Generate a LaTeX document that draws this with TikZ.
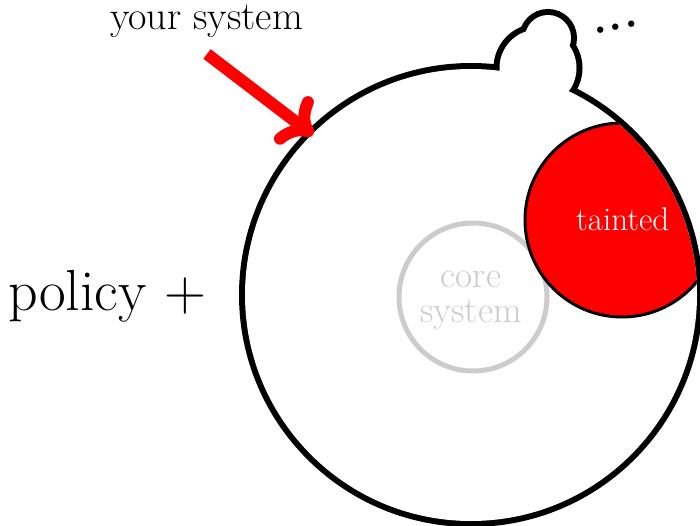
\documentclass[tikz,border=0pt]{standalone}
\usetikzlibrary{arrows.meta}
\definecolor{coregray}{gray}{0.8}
\begin{document}
\begin{tikzpicture}[x=1pt,y=-1pt,
  outline/.style={draw=black,line width=12pt},
  hole/.style={fill=white},
  coreline/.style={draw=coregray,line width=5pt},
  coretext/.style={text=coregray,inner sep=0pt,anchor=base,font=\fontsize{37}{37}\selectfont},
  label/.style={inner sep=0pt,anchor=base west},
  taint/.style={fill=red,draw=black,line width=3pt},
  pointer/.style={draw=red,line width=12pt,-{Computer Modern Rightarrow[length=30pt,width=58pt,round]}}]
\useasboundingbox (0,0) rectangle (700,526);
% centres
\coordinate (big) at (471,295);
\coordinate (mid) at (538,68);
\coordinate (small) at (548,38);
\coordinate (corec) at (473,297);
\coordinate (taintc) at (622,220);
% outline of "your system" (union of three circles)
\draw[outline] (big) circle[radius=226pt] (mid) circle[radius=38.5pt] (small) circle[radius=23pt];
\fill[hole] (big) circle[radius=226pt] (mid) circle[radius=38.5pt] (small) circle[radius=23pt];
% core system
\draw[coreline] (corec) circle[radius=74pt];
\node[coretext] (core1) at (471,287) {core};
\node[coretext] (core2) at (471,322) {system};
% tainted region
\begin{scope}
  \clip (big) circle[radius=226pt];
  \filldraw[taint] (taintc) circle[radius=97pt];
\end{scope}
\node[label,text=white,font=\fontsize{33}{36}\selectfont] (tainted) at (576,231) {tainted};
% labels
\node[label,font=\fontsize{58}{60}\selectfont] (policy) at (8,310) {policy +};
\node[label,font=\fontsize{40}{40}\selectfont] (your) at (110,30) {your system};
\node[inner sep=0pt,rotate=10,font=\fontsize{44}{44}\selectfont\bfseries] (dots) at (616,27) {.\kern2pt.\kern2pt.};
% arrow
\coordinate (astart) at (207,54);
\coordinate (atip) at (313,135);
\draw[pointer] (astart) -- (atip);
\end{tikzpicture}
\end{document}
